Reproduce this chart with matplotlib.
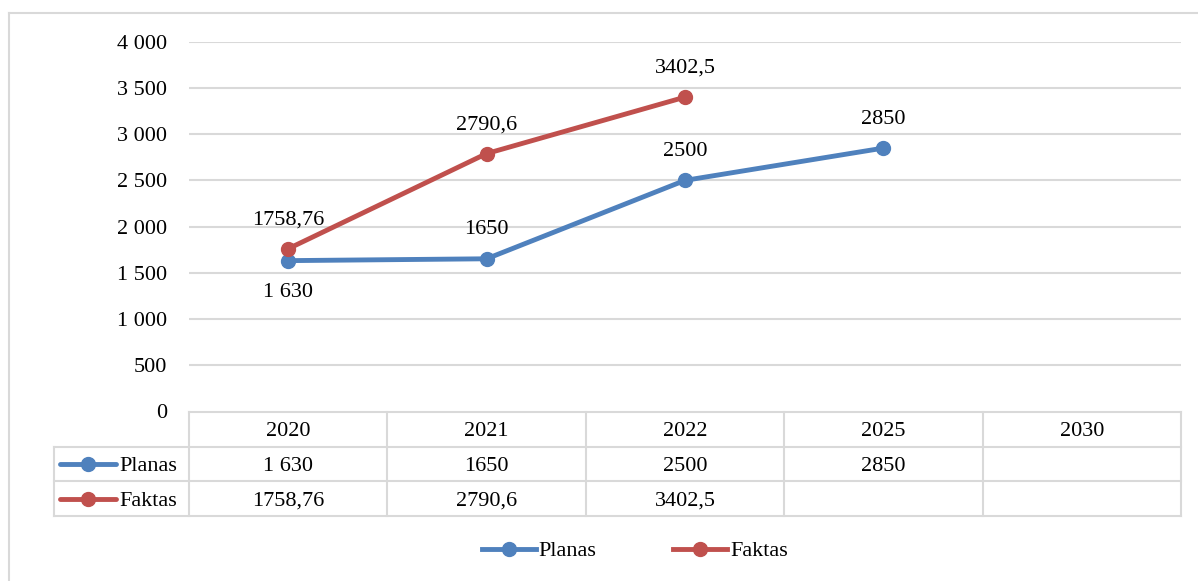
import matplotlib.pyplot as plt
from matplotlib.lines import Line2D

# Data
years = ["2020", "2021", "2022", "2025", "2030"]
planas = [1630, 1650, 2500, 2850]
faktas = [1758.76, 2790.6, 3402.5]
planas_labels = ["1 630", "1650", "2500", "2850"]
faktas_labels = ["1758,76", "2790,6", "3402,5"]
y_ticks = [0, 500, 1000, 1500, 2000, 2500, 3000, 3500, 4000]

BLUE = "#4f81bd"
RED = "#c0504d"
GRID = "#d9d9d9"
FONT = "Liberation Serif"
FS = 16

plt.rcParams['font.family'] = [FONT, 'DejaVu Serif']

W, H = 1198, 581
fig = plt.figure(figsize=(W / 100, H / 100), dpi=100)

def fx(px):
    return px / W

def fy(py):
    return 1 - py / H

# outer chart border (left and top edges visible)
fig.add_artist(Line2D([fx(8.5), fx(8.5)], [fy(12.5), 0], color=GRID, lw=1.5))
fig.add_artist(Line2D([fx(8.5), 1], [fy(12.5), fy(12.5)], color=GRID, lw=1.5))

# main plot area
L, R, T, B = 189, 1181, 42, 411
ax = fig.add_axes([fx(L), fy(B), fx(R) - fx(L), fy(T) - fy(B)])
ax.set_xlim(-0.5, len(years) - 0.5)
ax.set_ylim(0, 4000)
for s in ax.spines.values():
    s.set_visible(False)
ax.set_xticks([])
ax.set_yticks(y_ticks)
ax.set_yticklabels([f"{v:,}".replace(",", " ") for v in y_ticks], fontsize=FS)
ax.tick_params(axis="y", length=0, pad=16)
for v in y_ticks[1:]:
    ax.axhline(v, color=GRID, lw=1.5, zorder=0)

xp = list(range(len(planas)))
xf = list(range(len(faktas)))
ax.plot(xp, planas, color=BLUE, lw=3.5, marker="o", ms=10, clip_on=False, zorder=3)
ax.plot(xf, faktas, color=RED, lw=3.5, marker="o", ms=10, clip_on=False, zorder=3)

# data labels
ax.annotate(planas_labels[0], (xp[0], planas[0]), xytext=(0, -16), textcoords="offset points",
            ha="center", va="top", fontsize=FS)
for i in range(1, len(planas)):
    ax.annotate(planas_labels[i], (xp[i], planas[i]), xytext=(0, 14), textcoords="offset points",
                ha="center", va="bottom", fontsize=FS)
for i in range(len(faktas)):
    ax.annotate(faktas_labels[i], (xf[i], faktas[i]), xytext=(0, 14), textcoords="offset points",
                ha="center", va="bottom", fontsize=FS)

# data table below
TL, TT, TB = 54, 412, 516
col_w = (R - L) / len(years)
lab_w = (L - TL) / col_w
tax = fig.add_axes([fx(TL), fy(TB), fx(R) - fx(TL), fy(TT) - fy(TB)])
tax.set_xlim(-0.5 - lab_w, len(years) - 0.5)
tax.set_ylim(0, 3)
tax.axis("off")
lw = 1.5
# horizontal lines
tax.plot([-0.5, len(years) - 0.5], [3, 3], color=GRID, lw=lw, clip_on=False)
for yv in [0, 1, 2]:
    tax.plot([-0.5 - lab_w, len(years) - 0.5], [yv, yv], color=GRID, lw=lw, clip_on=False)
# vertical lines
tax.plot([-0.5 - lab_w] * 2, [0, 2], color=GRID, lw=lw, clip_on=False)
for i in range(len(years) + 1):
    tax.plot([i - 0.5] * 2, [0, 3], color=GRID, lw=lw, clip_on=False)

for i, yr in enumerate(years):
    tax.text(i, 2.5, yr, ha="center", va="center_baseline", fontsize=FS)
for i, lab in enumerate(planas_labels):
    tax.text(i, 1.5, lab, ha="center", va="center_baseline", fontsize=FS)
for i, lab in enumerate(faktas_labels):
    tax.text(i, 0.5, lab, ha="center", va="center_baseline", fontsize=FS)

# legend keys inside table
x0 = -0.5 - lab_w
for row, col, name in [(1.5, BLUE, "Planas"), (0.5, RED, "Faktas")]:
    tax.plot([x0 + 0.03, x0 + 0.31], [row, row], color=col, lw=3.5, solid_capstyle="round")
    tax.plot([x0 + 0.17], [row], marker="o", color=col, ms=10)
    tax.text(x0 + 0.33, row, name, ha="left", va="center_baseline", fontsize=FS)

# bottom legend
handles = [Line2D([], [], color=BLUE, lw=3.5, marker="o", ms=10),
           Line2D([], [], color=RED, lw=3.5, marker="o", ms=10)]
fig.legend(handles, ["Planas", "Faktas"], loc="center", bbox_to_anchor=(fx(635), fy(551)),
           ncol=2, frameon=False, fontsize=FS, handlelength=2.4, handletextpad=0.15,
           columnspacing=3.45)

fig.savefig("out.png", dpi=100)
